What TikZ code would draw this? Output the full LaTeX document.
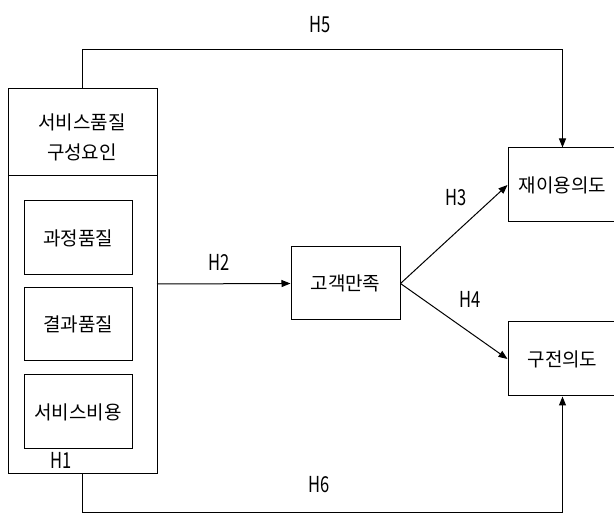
\documentclass[tikz,border=0pt]{standalone}
\usepackage{fontspec}
\setmainfont{Noto Sans CJK KR}
\newfontfamily\hfont[FakeStretch=0.75]{Noto Sans CJK KR}
\usetikzlibrary{arrows.meta}
\tikzset{
  box/.style={draw, line width=1pt, inner sep=0pt},
  ktext/.style={font=\fontsize{19}{30}\selectfont, align=center, inner sep=0pt},
  hlab/.style={font=\hfont\fontsize{22}{22}\selectfont, inner sep=0pt},
  conn/.style={line width=1pt},
  arr/.style={conn, -{Triangle[length=9pt,width=7pt]}}
}
\begin{document}
\begin{tikzpicture}[x=1pt,y=-1pt]
\useasboundingbox (0,0) rectangle (614,513);
\clip (0,0) rectangle (614,513);
\fill[white] (0,0) rectangle (614,513);
% outer box
\node[box, minimum width=149pt, minimum height=384pt] (outer) at (82.5,281) {};
\draw[conn] (8,176) -- (157,176);
\node[ktext] (hdr) at (82,137) {서비스품질\\구성요인};
% inner boxes
\node[box, minimum width=108pt, minimum height=74pt] (b1) at (78,238) {};
\node[ktext] (t1) at (b1.center) {과정품질};
\node[box, minimum width=108pt, minimum height=73pt] (b2) at (78,324.5) {};
\node[ktext] (t2) at (b2.center) {결과품질};
\node[box, minimum width=108pt, minimum height=74pt] (b3) at (78,412) {};
\node[ktext] (t3) at (b3.center) {서비스비용};
% right nodes
\node[box, minimum width=109pt, minimum height=73pt] (sat) at (345.5,283.5) {};
\node[ktext] (tsat) at (sat.center) {고객만족};
\node[box, minimum width=109pt, minimum height=74pt] (reuse) at (562.5,185) {};
\node[ktext] (treuse) at (reuse.center) {재이용의도};
\node[box, minimum width=109pt, minimum height=74pt] (wom) at (562.5,359) {};
\node[ktext] (twom) at (wom.center) {구전의도};
% connectors
\coordinate (h2s) at (157,284);
\draw[arr] (h2s) -- (sat.west);
\draw[arr] (sat.east) -- (reuse.west);
\draw[arr] (sat.east) -- (wom.west);
\coordinate (h5c) at (82.5,50);
\draw[arr] (outer.north) -- (h5c) -| (reuse.north);
\coordinate (h6c) at (82.5,512);
\draw[arr] (outer.south) -- (h6c) -| (wom.south);
% labels
\node[hlab] (l1) at (61,460) {H1};
\node[hlab] (l2) at (219,262) {H2};
\node[hlab] (l3) at (456,198) {H3};
\node[hlab] (l4) at (470,299) {H4};
\node[hlab] (l5) at (320,25) {H5};
\node[hlab] (l6) at (319,485) {H6};
\end{tikzpicture}
\end{document}
